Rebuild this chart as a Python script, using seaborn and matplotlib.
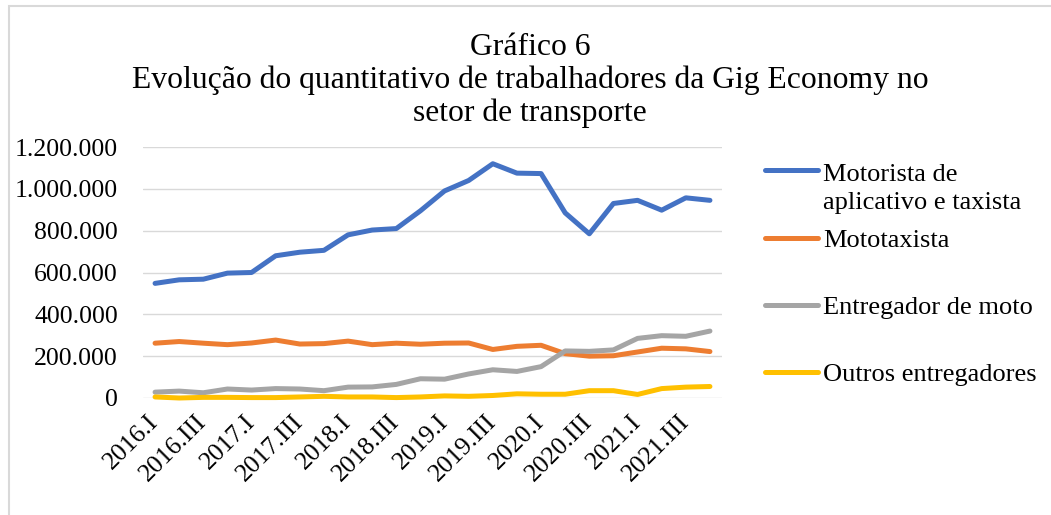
import numpy as np
import pandas as pd
import matplotlib
matplotlib.use('Agg')
import matplotlib.pyplot as plt
import seaborn as sns
from matplotlib.legend_handler import HandlerLine2D
from matplotlib.ticker import FuncFormatter, MultipleLocator
from matplotlib.patches import Rectangle

# trimestres 2016.I .. 2021.IV
trimestres = [f"{ano}.{q}" for ano in range(2016, 2022) for q in ["I", "II", "III", "IV"]]

motorista = [548, 565, 568, 597, 600, 680, 697, 706, 780, 803, 810, 895,
             990, 1040, 1120, 1075, 1073, 885, 785, 930, 945, 898, 957, 945]
mototaxista = [262, 270, 262, 255, 263, 277, 258, 260, 272, 255, 262, 257,
               262, 263, 232, 247, 252, 212, 200, 202, 220, 238, 235, 222]
entregador_moto = [28, 33, 25, 43, 38, 45, 43, 35, 52, 53, 65, 92,
                   90, 115, 135, 127, 150, 225, 223, 230, 285, 298, 295, 320]
outros = [5, 0, 3, 3, 2, 2, 5, 8, 5, 5, 2, 5,
          10, 8, 12, 20, 18, 18, 35, 35, 17, 45, 52, 55]

series = {
    "Motorista de\naplicativo e taxista": motorista,
    "Mototaxista": mototaxista,
    "Entregador de moto": entregador_moto,
    "Outros entregadores": outros,
}
cores = ["#4472C4", "#ED7D31", "#A5A5A5", "#FFC000"]

linhas = []
for nome, valores in series.items():
    linhas.append(pd.DataFrame({"idx": range(len(trimestres)),
                                "trimestre": trimestres,
                                "valor": np.array(valores) * 1000,
                                "serie": nome}))
df = pd.concat(linhas, ignore_index=True)

sns.set_theme(style="white")
plt.rcParams['font.family'] = ['Liberation Serif', 'DejaVu Serif']
plt.rcParams['text.color'] = 'black'

W, H = 1051, 515
fig = plt.figure(figsize=(W / 100, H / 100), dpi=100)
ax = fig.add_axes([143 / W, (H - 398) / H, (722 - 143) / W, (398 - 147) / H])

for nome, cor in zip(series.keys(), cores):
    sns.lineplot(data=df[df["serie"] == nome], x="idx", y="valor", ax=ax,
                 color=cor, linewidth=3.6, label=nome, clip_on=False,
                 solid_capstyle='round', solid_joinstyle='round', zorder=3)

ax.set_xlim(-0.5, len(trimestres) - 0.5)
ax.set_ylim(0, 1200000)
ax.yaxis.set_major_locator(MultipleLocator(200000))
ax.yaxis.set_major_formatter(FuncFormatter(lambda v, p: f"{int(v):,}".replace(",", ".")))
ax.set_xticks(range(0, len(trimestres), 2))
ax.set_xticklabels(trimestres[::2], rotation=45, ha='right', va='center',
                   rotation_mode='anchor')
ax.tick_params(axis='y', length=0, pad=18, labelsize=18.5, colors='black')
ax.tick_params(axis='x', length=0, pad=15, labelsize=18.5, colors='black')
ax.set_xlabel("")
ax.set_ylabel("")
ax.grid(axis='y', color='#D9D9D9', linewidth=1.0)
ax.set_axisbelow(True)
for s in ax.spines.values():
    s.set_visible(False)

# legenda
handles, labels = ax.get_legend_handles_labels()
ax.get_legend().remove()


class HandlerTopo(HandlerLine2D):
    # linha da primeira entrada alinhada com a primeira linha do texto
    def create_artists(self, legend, orig_handle, xdescent, ydescent, width, height,
                       fontsize, trans):
        arts = super().create_artists(legend, orig_handle, xdescent, ydescent, width,
                                      height, fontsize, trans)
        for a in arts:
            a.set_ydata(np.array(a.get_ydata()) + 0.7 * fontsize)
        return arts


for h in handles:
    h.set_solid_capstyle('round')

estilo_leg = dict(loc='upper left', frameon=False, fontsize=19, borderpad=0,
                  borderaxespad=0, handlelength=2.0, handletextpad=0.2)
leg1 = fig.legend(handles[:1], labels[:1], bbox_to_anchor=(765 / W, 1 - 164 / H),
                  handler_map={handles[0]: HandlerTopo()}, **estilo_leg)
for t in leg1.get_texts():
    t.set_linespacing(1.38)
fig.legend(handles[1:], labels[1:], bbox_to_anchor=(765 / W, 1 - 229 / H),
           labelspacing=1.65, **estilo_leg)

fig.text(530 / W, 1 - 33 / H,
         "Gráfico 6\nEvolução do quantitativo de trabalhadores da Gig Economy no\nsetor de transporte",
         ha='center', va='top', fontsize=22.8, linespacing=1.15)

# moldura do gráfico
fig.patches.append(Rectangle((9 / W, -0.1), 1.2, 1 - 6 / H + 0.1, transform=fig.transFigure,
                             fill=False, edgecolor='#D9D9D9', linewidth=1.5))

fig.savefig("out.png", dpi=100)
